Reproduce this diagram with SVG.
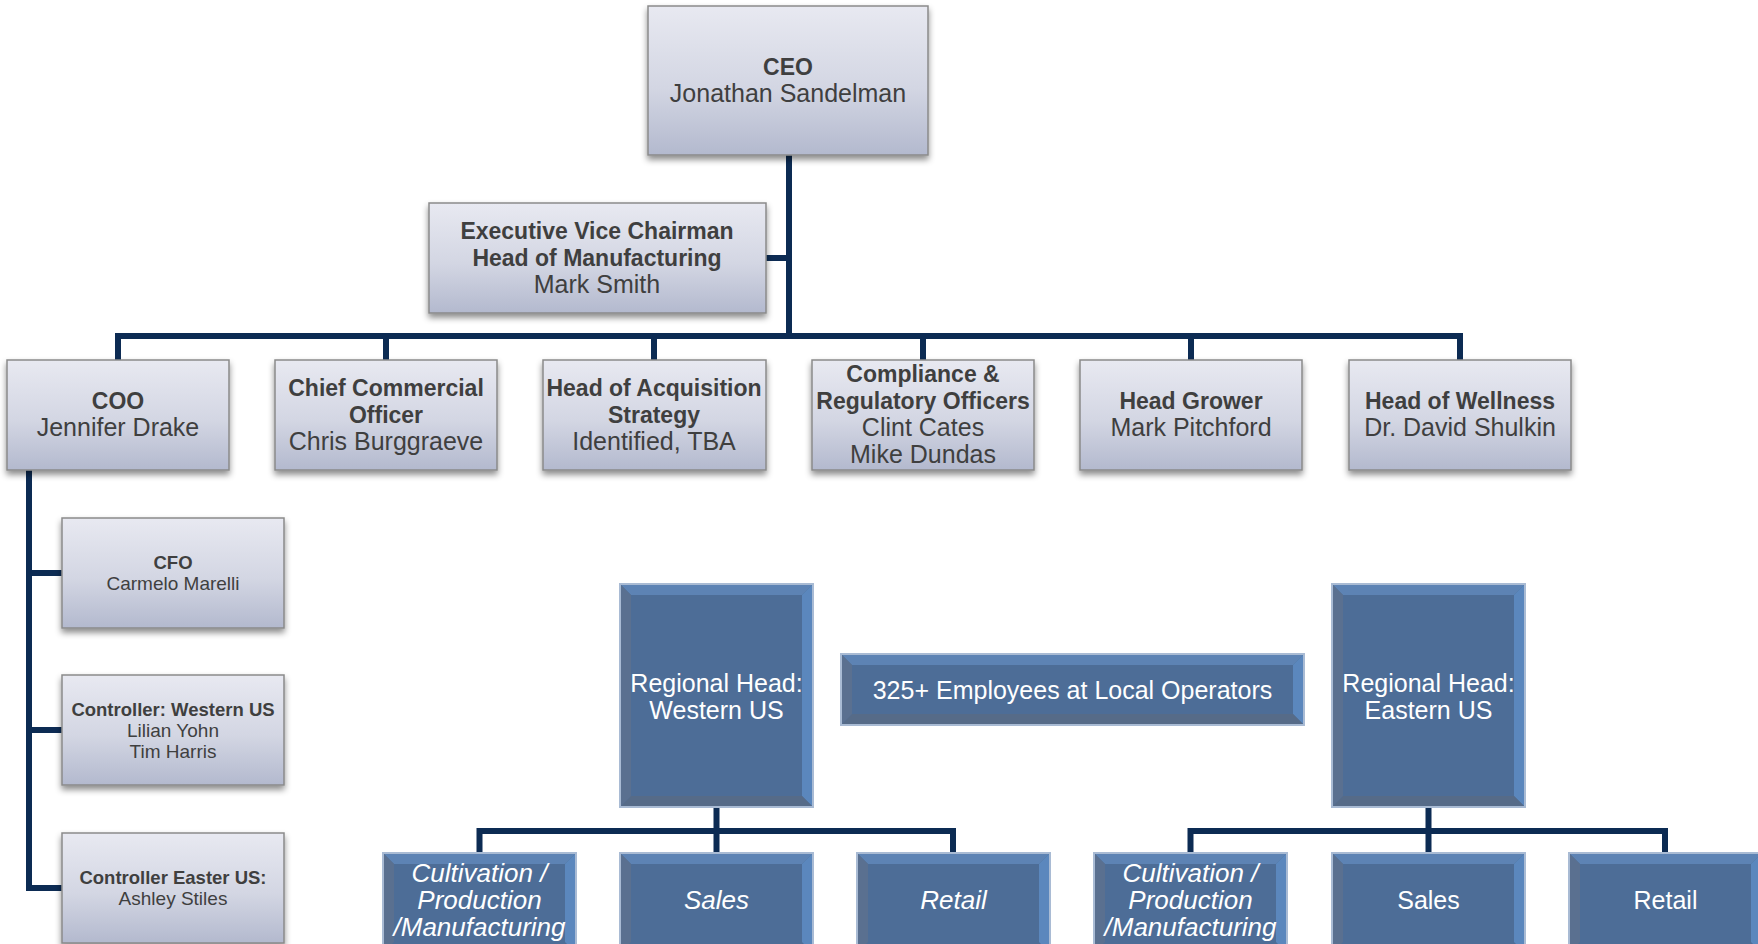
<svg xmlns="http://www.w3.org/2000/svg" width="1758" height="944" viewBox="0 0 1758 944">
<defs>
<linearGradient id="lg" x1="0" y1="0" x2="0" y2="1">
<stop offset="0" stop-color="#e8e9f1"/>
<stop offset="0.55" stop-color="#d3d6e3"/>
<stop offset="1" stop-color="#b3b9ce"/>
</linearGradient>
<filter id="sh" x="-10%" y="-10%" width="120%" height="130%">
<feDropShadow dx="0" dy="4" stdDeviation="3" flood-color="#000" flood-opacity="0.45"/>
</filter>
</defs>
<style>
.lb{fill:url(#lg);stroke:#8a8a8a;stroke-width:1.5;filter:url(#sh)}
.t{font-family:"Liberation Sans",Arial,sans-serif;fill:#3f3f3f;text-anchor:middle}
.h{font-weight:bold;font-size:23px}
.n{font-size:25px}
.hs{font-weight:bold;font-size:18.5px}
.ns{font-size:19px}
.bi{fill:#4d6d97}
.bt{fill:#5d83b4}
.br{fill:#5b87bd}
.bb{fill:#566b88}
.bl{fill:#5a7090}
.bo{fill:none;stroke:#a9bbd4;stroke-width:2}
.w{font-family:"Liberation Sans",Arial,sans-serif;fill:#ffffff;text-anchor:middle;font-size:25px}
.wi{font-style:italic;font-size:26px}
.c{fill:none;stroke:#0c2b53;stroke-width:6;stroke-linejoin:miter;stroke-linecap:butt}
</style>

<g id="connectors">
<path class="c" d="M789 155 V336"/>
<path class="c" d="M766 258 H789"/>
<path class="c" d="M118 360 V336 H1460 V360"/>
<path class="c" d="M386 336 V360 M654 336 V360 M923 336 V360 M1191 336 V360"/>
<path class="c" d="M29 470 V888 H62 M29 573 H62 M29 730 H62"/>
<path class="c" d="M716.5 807 V853 M479.5 853 V831 H953 V853"/>
<path class="c" d="M1428.5 807 V853 M1190.5 853 V831 H1665 V853"/>
</g>

<g id="ceo">
<rect class="lb" x="648" y="6" width="280" height="149"/>
<text class="t h" x="788" y="75">CEO</text>
<text class="t n" x="788" y="102">Jonathan Sandelman</text>
</g>

<g id="evc">
<rect class="lb" x="429" y="203" width="337" height="110"/>
<text class="t h" x="597" y="239">Executive Vice Chairman</text>
<text class="t h" x="597" y="266">Head of Manufacturing</text>
<text class="t n" x="597" y="293">Mark Smith</text>
</g>

<g id="coo">
<rect class="lb" x="7" y="360" width="222" height="110"/>
<text class="t h" x="118" y="409">COO</text>
<text class="t n" x="118" y="436">Jennifer Drake</text>
</g>

<g id="cco">
<rect class="lb" x="275" y="360" width="222" height="110"/>
<text class="t h" x="386" y="396">Chief Commercial</text>
<text class="t h" x="386" y="423">Officer</text>
<text class="t n" x="386" y="450">Chris Burggraeve</text>
</g>

<g id="has">
<rect class="lb" x="543" y="360" width="223" height="110"/>
<text class="t h" x="654" y="396">Head of Acquisition</text>
<text class="t h" x="654" y="423">Strategy</text>
<text class="t n" x="654" y="450">Identified, TBA</text>
</g>

<g id="compliance">
<rect class="lb" x="812" y="360" width="222" height="110"/>
<text class="t h" x="923" y="382">Compliance &amp;</text>
<text class="t h" x="923" y="409">Regulatory Officers</text>
<text class="t n" x="923" y="436">Clint Cates</text>
<text class="t n" x="923" y="463">Mike Dundas</text>
</g>

<g id="grower">
<rect class="lb" x="1080" y="360" width="222" height="110"/>
<text class="t h" x="1191" y="409">Head Grower</text>
<text class="t n" x="1191" y="436">Mark Pitchford</text>
</g>

<g id="wellness">
<rect class="lb" x="1349" y="360" width="222" height="110"/>
<text class="t h" x="1460" y="409">Head of Wellness</text>
<text class="t n" x="1460" y="436">Dr. David Shulkin</text>
</g>

<g id="cfo">
<rect class="lb" x="62" y="518" width="222" height="110"/>
<text class="t hs" x="173" y="569">CFO</text>
<text class="t ns" x="173" y="590">Carmelo Marelli</text>
</g>

<g id="ctrl-west">
<rect class="lb" x="62" y="675" width="222" height="110"/>
<text class="t hs" x="173" y="716">Controller: Western US</text>
<text class="t ns" x="173" y="737">Lilian Yohn</text>
<text class="t ns" x="173" y="758">Tim Harris</text>
</g>

<g id="ctrl-east">
<rect class="lb" x="62" y="833" width="222" height="110"/>
<text class="t hs" x="173" y="884">Controller Easter US:</text>
<text class="t ns" x="173" y="905">Ashley Stiles</text>
</g>

<g id="reg-west">
<rect class="bi" x="620" y="584" width="193" height="223"/>
<polygon class="bt" points="620,584 813,584 802,595 631,595"/>
<polygon class="br" points="813,584 813,807 802,796 802,595"/>
<polygon class="bb" points="620,807 813,807 802,796 631,796"/>
<polygon class="bl" points="620,584 631,595 631,796 620,807"/>
<rect class="bo" x="620" y="584" width="193" height="223"/>
<text class="w" x="716.5" y="692">Regional Head:</text>
<text class="w" x="716.5" y="719">Western US</text>
</g>

<g id="employees">
<rect class="bi" x="841" y="654" width="463" height="71"/>
<polygon class="bt" points="841,654 1304,654 1293,665 852,665"/>
<polygon class="br" points="1304,654 1304,725 1293,714 1293,665"/>
<polygon class="bb" points="841,725 1304,725 1293,714 852,714"/>
<polygon class="bl" points="841,654 852,665 852,714 841,725"/>
<rect class="bo" x="841" y="654" width="463" height="71"/>
<text class="w" x="1072.5" y="699">325+ Employees at Local Operators</text>
</g>

<g id="reg-east">
<rect class="bi" x="1332" y="584" width="193" height="223"/>
<polygon class="bt" points="1332,584 1525,584 1514,595 1343,595"/>
<polygon class="br" points="1525,584 1525,807 1514,796 1514,595"/>
<polygon class="bb" points="1332,807 1525,807 1514,796 1343,796"/>
<polygon class="bl" points="1332,584 1343,595 1343,796 1332,807"/>
<rect class="bo" x="1332" y="584" width="193" height="223"/>
<text class="w" x="1428.5" y="692">Regional Head:</text>
<text class="w" x="1428.5" y="719">Eastern US</text>
</g>

<g id="west-cultivation">
<rect class="bi" x="383" y="853" width="193" height="100"/>
<polygon class="bt" points="383,853 576,853 565,864 394,864"/>
<polygon class="br" points="576,853 576,953 565,942 565,864"/>
<polygon class="bl" points="383,853 394,864 394,942 383,953"/>
<rect class="bo" x="383" y="853" width="193" height="100"/>
<text class="w wi" x="479.5" y="882">Cultivation /</text>
<text class="w wi" x="479.5" y="909">Production</text>
<text class="w wi" x="479.5" y="936">/Manufacturing</text>
</g>

<g id="west-sales">
<rect class="bi" x="620" y="853" width="193" height="100"/>
<polygon class="bt" points="620,853 813,853 802,864 631,864"/>
<polygon class="br" points="813,853 813,953 802,942 802,864"/>
<polygon class="bl" points="620,853 631,864 631,942 620,953"/>
<rect class="bo" x="620" y="853" width="193" height="100"/>
<text class="w wi" x="716.5" y="909">Sales</text>
</g>

<g id="west-retail">
<rect class="bi" x="857" y="853" width="193" height="100"/>
<polygon class="bt" points="857,853 1050,853 1039,864 868,864"/>
<polygon class="br" points="1050,853 1050,953 1039,942 1039,864"/>
<polygon class="bl" points="857,853 868,864 868,942 857,953"/>
<rect class="bo" x="857" y="853" width="193" height="100"/>
<text class="w wi" x="953.5" y="909">Retail</text>
</g>

<g id="east-cultivation">
<rect class="bi" x="1094" y="853" width="193" height="100"/>
<polygon class="bt" points="1094,853 1287,853 1276,864 1105,864"/>
<polygon class="br" points="1287,853 1287,953 1276,942 1276,864"/>
<polygon class="bl" points="1094,853 1105,864 1105,942 1094,953"/>
<rect class="bo" x="1094" y="853" width="193" height="100"/>
<text class="w wi" x="1190.5" y="882">Cultivation /</text>
<text class="w wi" x="1190.5" y="909">Production</text>
<text class="w wi" x="1190.5" y="936">/Manufacturing</text>
</g>

<g id="east-sales">
<rect class="bi" x="1332" y="853" width="193" height="100"/>
<polygon class="bt" points="1332,853 1525,853 1514,864 1343,864"/>
<polygon class="br" points="1525,853 1525,953 1514,942 1514,864"/>
<polygon class="bl" points="1332,853 1343,864 1343,942 1332,953"/>
<rect class="bo" x="1332" y="853" width="193" height="100"/>
<text class="w" x="1428.5" y="909">Sales</text>
</g>

<g id="east-retail">
<rect class="bi" x="1569" y="853" width="193" height="100"/>
<polygon class="bt" points="1569,853 1762,853 1751,864 1580,864"/>
<polygon class="br" points="1762,853 1762,953 1751,942 1751,864"/>
<polygon class="bl" points="1569,853 1580,864 1580,942 1569,953"/>
<rect class="bo" x="1569" y="853" width="193" height="100"/>
<text class="w" x="1665.5" y="909">Retail</text>
</g>
</svg>
